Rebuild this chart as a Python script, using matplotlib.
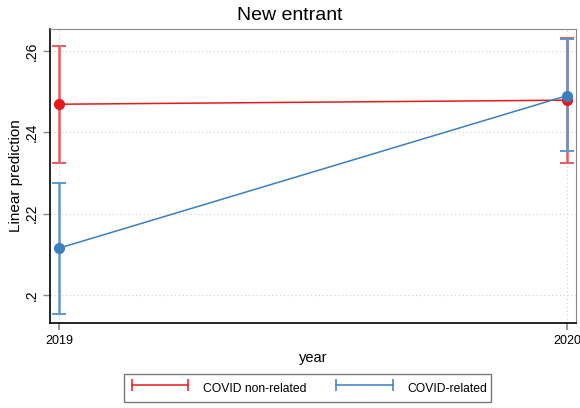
import matplotlib
matplotlib.use("Agg")
import matplotlib.pyplot as plt
from matplotlib.lines import Line2D

plt.rcParams['font.family'] = ['Liberation Sans', 'DejaVu Sans']

years = [2019, 2020]
groups = ["COVID non-related", "COVID-related"]
colors = ["#e8191c", "#3a7fbf"]
ci_colors = ["#ea5a5d", "#5e97cd"]
means = [[0.2469, 0.2479], [0.2115, 0.2490]]
ci_low = [[0.2324, 0.2325], [0.1952, 0.2355]]
ci_high = [[0.2612, 0.2631], [0.2276, 0.2630]]
yticks = [0.20, 0.22, 0.24, 0.26]
ytick_labels = [".2", ".22", ".24", ".26"]

fig = plt.figure(figsize=(5.8, 4.08), dpi=100)
ax = fig.add_axes([50/580, 85/408, 526/580, 294/408])

handles = []
for g, c, ec, m, lo, hi in zip(groups, colors, ci_colors, means, ci_low, ci_high):
    yerr = [[mm - l for mm, l in zip(m, lo)], [h - mm for mm, h in zip(m, hi)]]
    ax.errorbar(years, m, yerr=yerr, fmt='none', ecolor=ec, elinewidth=1.8,
                capsize=5, capthick=1.4, zorder=2)
    handles.append(Line2D([], [], color=c, lw=1.1, marker='|', markersize=8,
                          markeredgewidth=1.1))
for c, m in zip(colors, means):
    ax.plot(years, m, color=c, lw=1.1, marker='o', markersize=7, zorder=3)

ax.set_xlim(2019 - 9/508, 2020 + 9/508)
ax.set_ylim(0.1931, 0.2654)
ax.set_xticks(years)
ax.set_xticklabels([str(y) for y in years], fontsize=9)
ax.set_yticks(yticks)
ax.set_yticklabels(ytick_labels, fontsize=10, rotation=90, va='center')
ax.grid(True, color='#d0d0d0', ls=(0, (1, 2.5)), lw=0.8)
ax.set_axisbelow(True)
ax.tick_params(axis='x', color='#888888', length=5, width=1.2)
ax.tick_params(axis='y', color='#888888', length=5, width=1.0, pad=3)
for s in ['top', 'right']:
    ax.spines[s].set_color('#888888')
for s in ['left', 'bottom']:
    ax.spines[s].set_color('black')
    ax.spines[s].set_linewidth(1.2)

fig.suptitle("New entrant", fontsize=14, x=0.5, y=1 - 7/408, va='top')
ax.set_ylabel("Linear prediction", fontsize=11, labelpad=1)
ax.set_xlabel("year", fontsize=10.5, labelpad=3)

leg = fig.legend(handles, groups, loc='center', bbox_to_anchor=(307.5/580, 20/408),
                 ncol=2, numpoints=2, handlelength=5.3, handleheight=2.2,
                 fontsize=8.7, frameon=True, fancybox=False, edgecolor='#555555',
                 columnspacing=2.2, handletextpad=0.87, borderpad=0.3,
                 borderaxespad=0)
leg.get_frame().set_linewidth(1.0)

fig.savefig("out.png", dpi=100)
